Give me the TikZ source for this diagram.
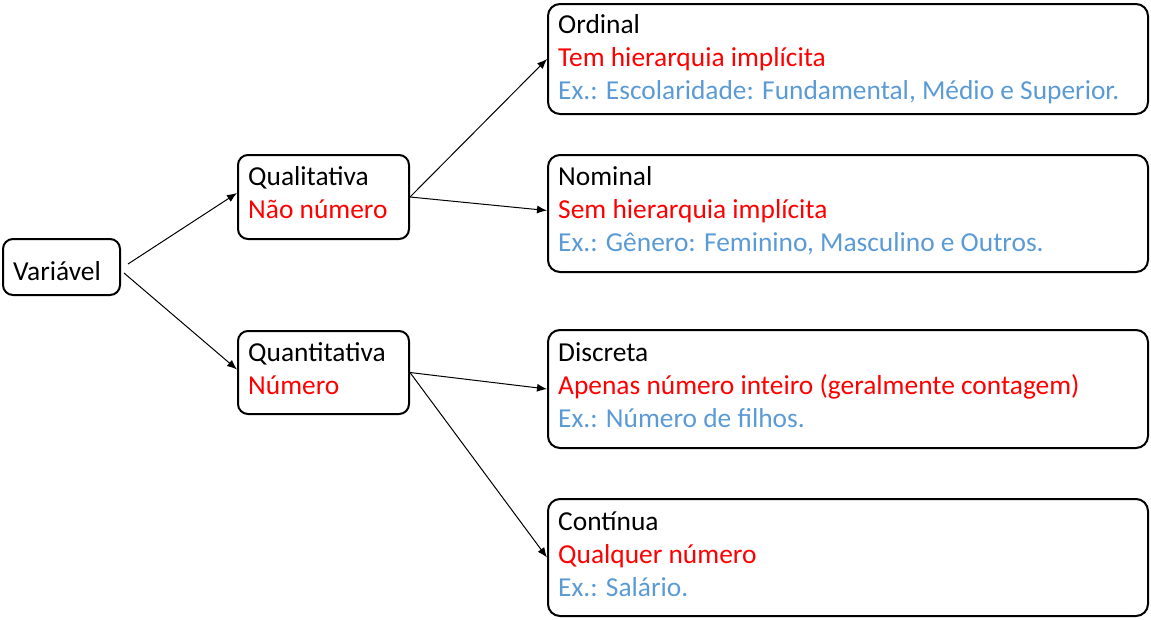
\documentclass[tikz,border=0pt]{standalone}
\usepackage{fontspec}
\setmainfont{Carlito}
\usetikzlibrary{arrows.meta,calc}
\definecolor{exblue}{HTML}{5B9BD5}
\definecolor{hred}{RGB}{255,0,0}
\tikzset{
  box/.style={draw=black, line width=2pt, rounded corners=12pt, anchor=north west, inner sep=0pt},
  sbox/.style={box, rounded corners=10pt},
  txt/.style={anchor=base west, inner sep=0pt, font=\fontsize{27.4}{33}\selectfont},
  conn/.style={draw=black, line width=1pt, -{Latex[length=10pt,width=8pt]}},
}
\begin{document}
\begin{tikzpicture}[x=1pt,y=-1pt]
\useasboundingbox (0,0) rectangle (1151,619);
% boxes
\node[sbox, minimum width=117, minimum height=56] (var) at (2,238) {};
\node[sbox, minimum width=171, minimum height=84] (qual) at (237,154) {};
\node[sbox, minimum width=171, minimum height=83] (quant) at (237,330) {};
\node[box, minimum width=600, minimum height=110] (ord) at (547,3) {};
\node[box, minimum width=600, minimum height=117] (nom) at (547,154) {};
\node[box, minimum width=600, minimum height=118] (dis) at (547,329) {};
\node[box, minimum width=600, minimum height=117] (con) at (547,498) {};
% texts
\node[txt] (varT) at (13,280) {Variável};
\node[txt] (qualT1) at (248,185) {Qualitativa};
\node[txt, text=hred] (qualT2) at (248,218) {Não número};
\node[txt] (quantT1) at (248,361) {Quantitativa};
\node[txt, text=hred] (quantT2) at (248,394) {Número};
\node[txt] (ordT1) at (558,33) {Ordinal};
\node[txt, text=hred] (ordT2) at (558,66) {Tem hierarquia implícita};
\node[txt, text=exblue] (ordT3) at (558,99) {Ex.: Escolaridade: Fundamental, Médio e Superior.};
\node[txt] (nomT1) at (558,185) {Nominal};
\node[txt, text=hred] (nomT2) at (558,218) {Sem hierarquia implícita};
\node[txt, text=exblue] (nomT3) at (558,251) {Ex.: Gênero: Feminino, Masculino e Outros.};
\node[txt] (disT1) at (558,361) {Discreta};
\node[txt, text=hred] (disT2) at (558,394) {Apenas número inteiro (geralmente contagem)};
\node[txt, text=exblue] (disT3) at (558,427) {Ex.: Número de filhos.};
\node[txt] (conT1) at (558,530) {Contínua};
\node[txt, text=hred] (conT2) at (558,563) {Qualquer número};
\node[txt, text=exblue] (conT3) at (558,596) {Ex.: Salário.};
% connector start points
\coordinate (v1) at (128,264);
\coordinate (v2) at (124,273);
% connectors
\draw[conn] (v1) -- ($(qual.west)+(0,-4)$);
\draw[conn] (v2) -- ($(quant.west)+(0,-3)$);
\draw[conn] (qual.east) -- (ord.west);
\draw[conn] (qual.east) -- ($(nom.west)+(0,-3)$);
\draw[conn] (quant.east) -- (dis.west);
\draw[conn] (quant.east) -- (con.west);
\end{tikzpicture}
\end{document}
